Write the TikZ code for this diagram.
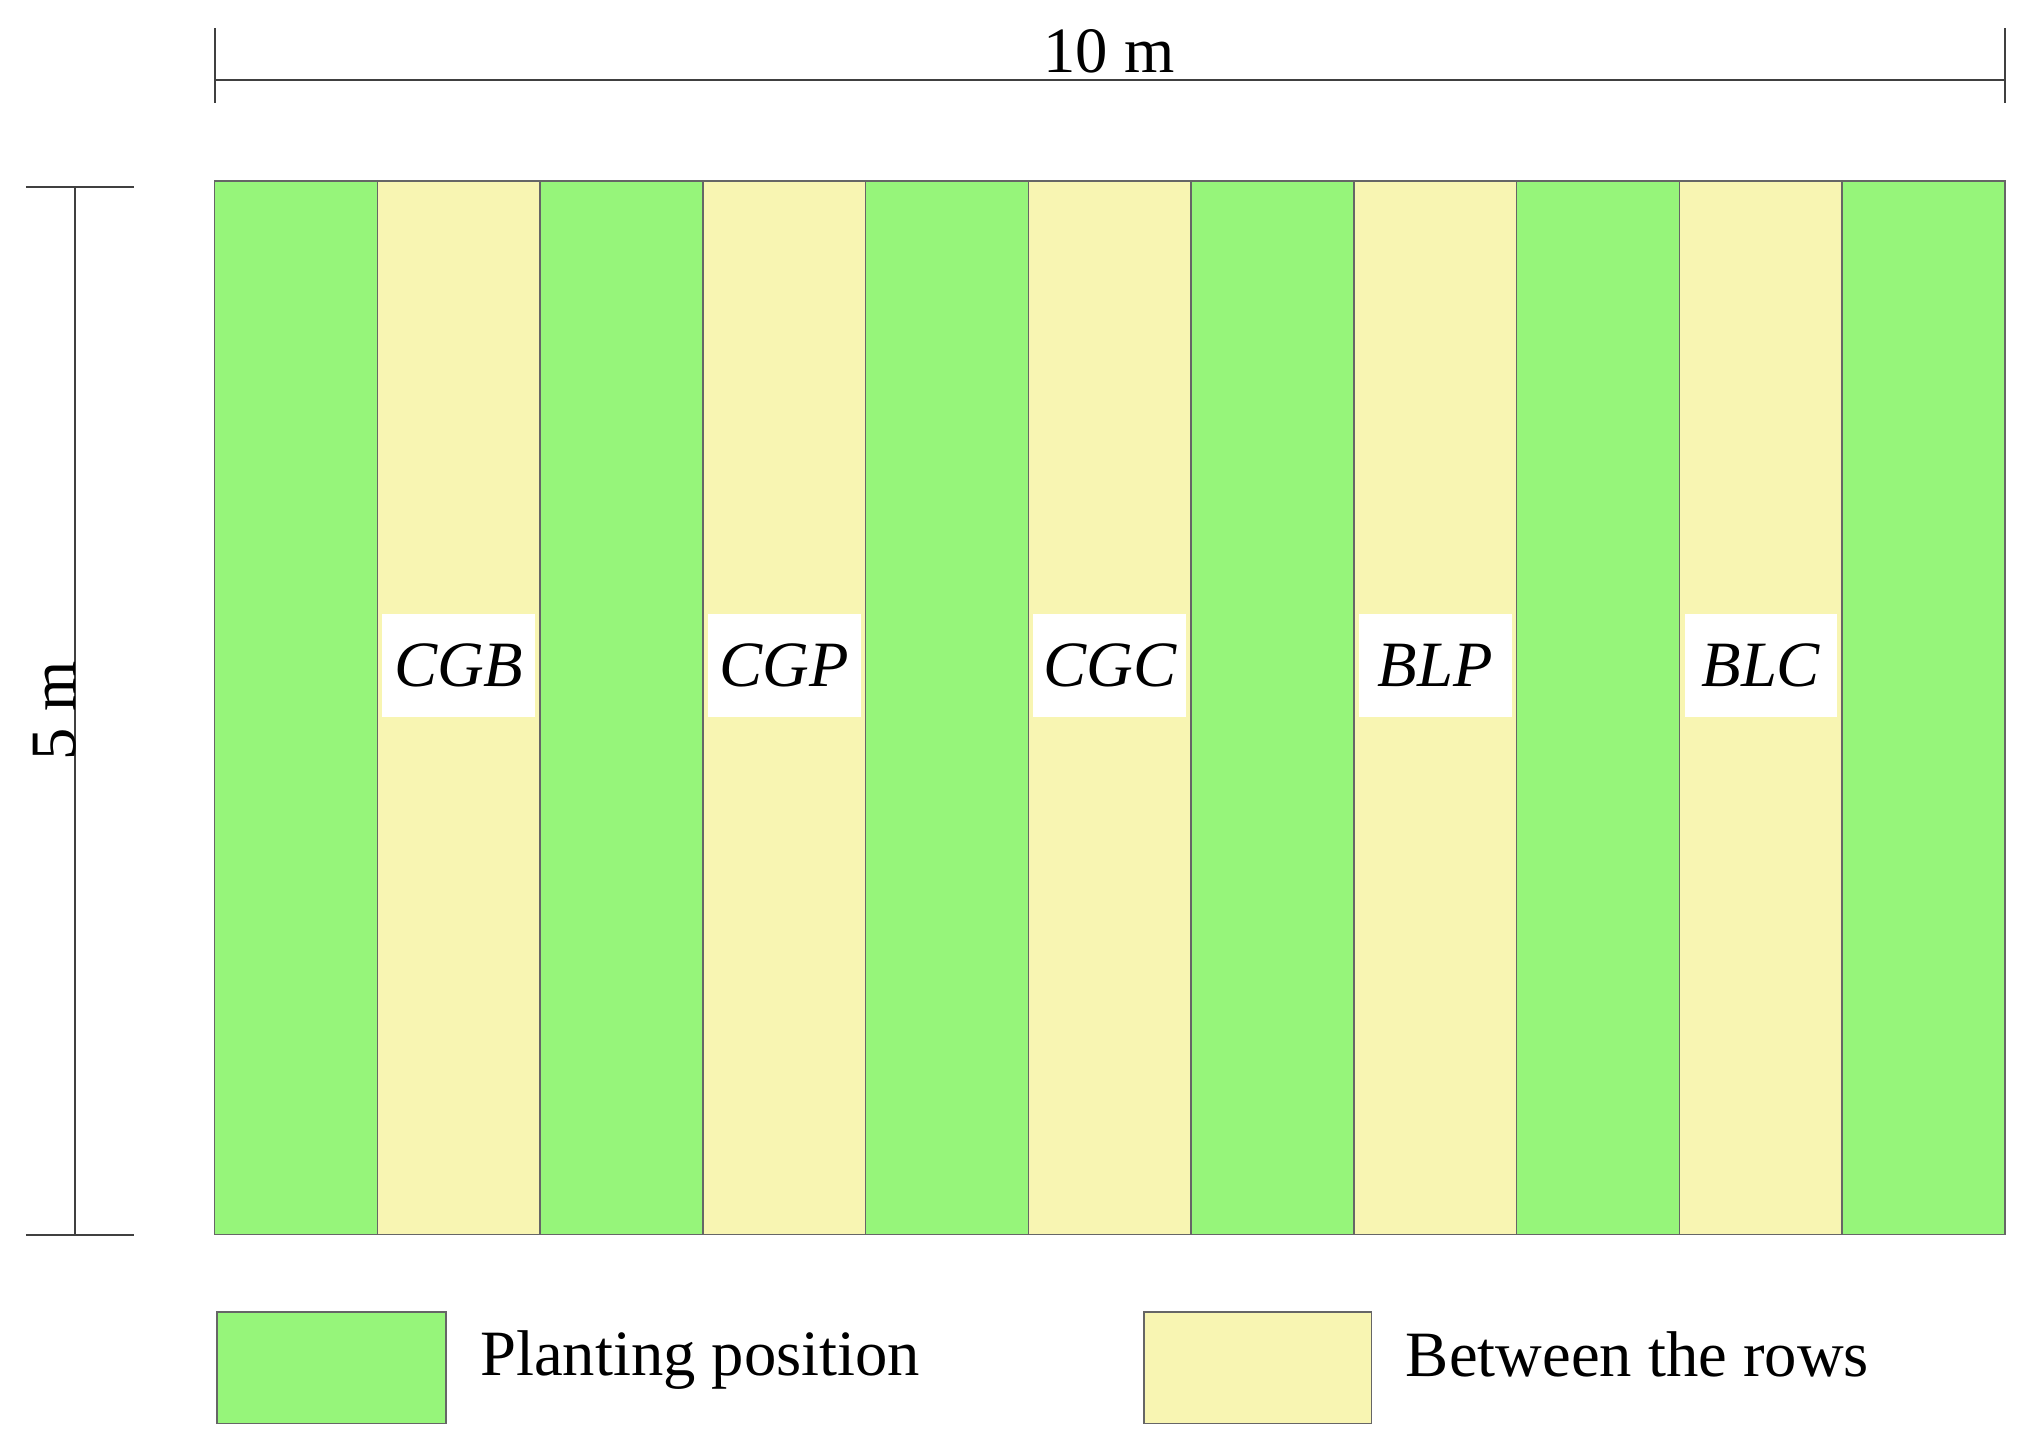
\documentclass[tikz,border=0pt]{standalone}
\usepackage{fontspec}
\setmainfont{Liberation Serif}
\definecolor{plant}{RGB}{150,245,122}
\definecolor{rowc}{RGB}{248,245,178}
\begin{document}
\begin{tikzpicture}[x=1pt,y=-1pt,
  strip/.style={draw=black!60,line width=1.2pt},
  dim/.style={draw=black!75,line width=1.5pt},
  lab/.style={fill=white,inner sep=0pt,minimum width=118pt,minimum height=80pt,font=\fontsize{50}{60}\selectfont\itshape},
  txt/.style={font=\fontsize{50}{60}\selectfont}]
\useasboundingbox (0,0) rectangle (1568,1115);
\foreach \i in {0,...,10}{
  \pgfmathsetmacro{\xa}{166+\i*125.9}
  \pgfmathsetmacro{\xb}{166+(\i+1)*125.9}
  \pgfmathparse{mod(\i,2)==0?1:0}
  \ifnum\pgfmathresult=1
    \fill[plant] (\xa,140) rectangle (\xb,955);
  \else
    \fill[rowc] (\xa,140) rectangle (\xb,955);
  \fi
  \draw[strip] (\xa,140) rectangle (\xb,955);
}
\foreach \i/\t in {1/CGB,3/CGP,5/CGC,7/BLP,9/BLC}{
  \node[lab] (l\t) at ({166+(\i+0.5)*125.9},515) {\t};
}
% top dimension
\coordinate (t1) at (166,62); \coordinate (t2) at (1551,62);
\draw[dim] (t1) -- (t2);
\draw[dim] (166,22) -- (166,80);
\draw[dim] (1551,22) -- (1551,80);
\node[txt] (w) at (858,40) {10 m};
% left dimension
\coordinate (s1) at (58,145); \coordinate (s2) at (58,955);
\draw[dim] (s1) -- (s2);
\draw[dim] (20,145) -- (104,145);
\draw[dim] (20,955) -- (104,955);
\node[txt,rotate=90] (h) at (42,550) {5 m};
% legend
\draw[strip,fill=plant] (168,1015) rectangle (345,1101);
\node[txt,anchor=west] (lp) at (368,1052) {Planting position};
\draw[strip,fill=rowc] (885,1015) rectangle (1061,1101);
\node[txt,anchor=west] (lb) at (1084,1048) {Between the rows};
\end{tikzpicture}
\end{document}
